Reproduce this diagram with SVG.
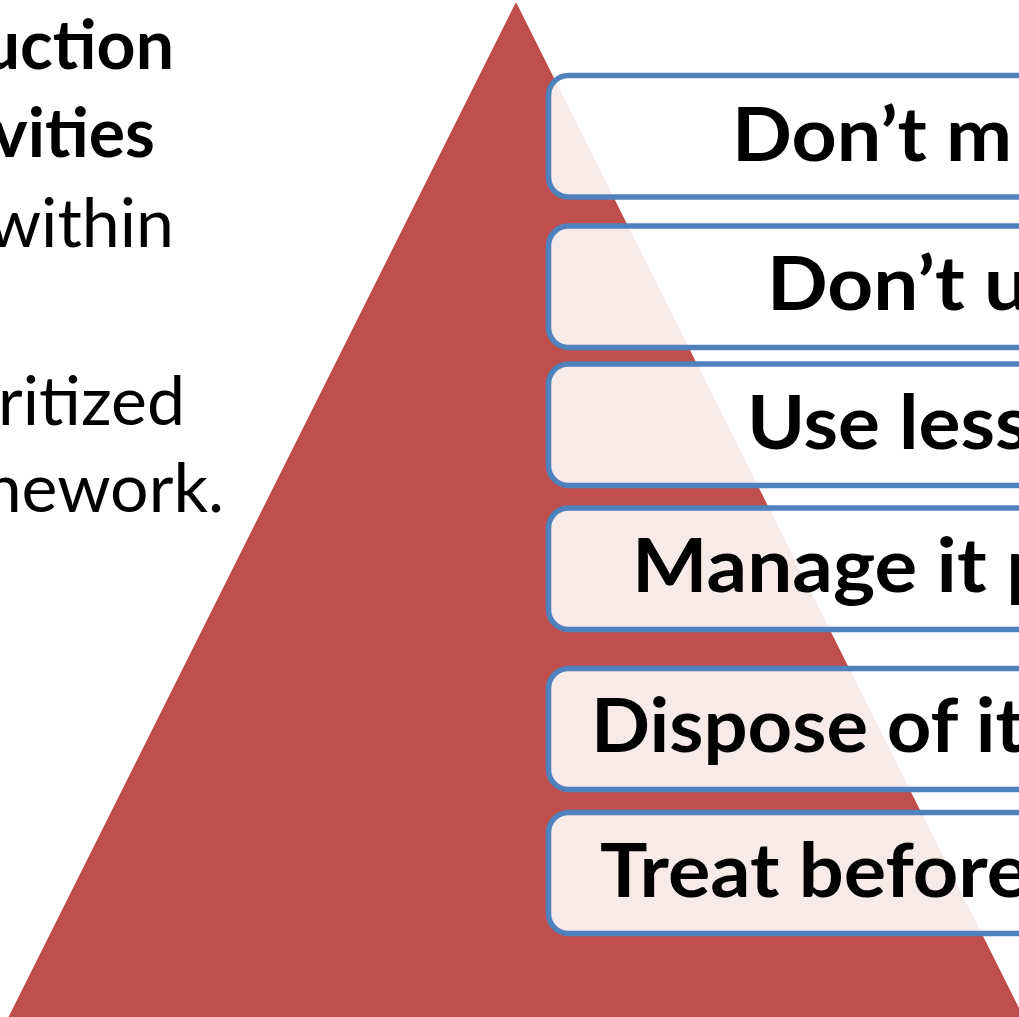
<svg xmlns="http://www.w3.org/2000/svg" width="1019" height="1017" viewBox="0 0 1019 1017">
  <style>
    .tier { fill: #ffffff; fill-opacity: 0.88; stroke: #4f81bd; stroke-width: 5.5; }
    .tier-label { font-family: Lato, "Liberation Sans", sans-serif; font-weight: 700; font-size: 75.5px; fill: #000000; }
    .side { font-family: Lato, "Liberation Sans", sans-serif; font-size: 68px; fill: #000000; text-anchor: end; }
    .side.strong { font-weight: 700; }
  </style>

  <rect x="0" y="0" width="1019" height="1017" fill="#ffffff"/>

  <!-- explanatory text at the left -->
  <g id="side-text">
    <text class="side strong" x="174" y="69">uction</text>
    <text class="side strong" x="155" y="157">vities</text>
    <text class="side" x="174" y="247">within</text>
    <text class="side" x="185" y="425">ritized</text>
    <text class="side" x="224" y="512">nework.</text>
  </g>

  <!-- pyramid -->
  <g id="pyramid">
    <polygon points="516,2 -4,1042 1036,1042" fill="#c0504d"/>
  </g>

  <!-- hierarchy tiers; labels are widened slightly to a condensed-face width -->
  <g id="tier-1">
    <rect class="tier" x="548.5" y="75.5" width="860" height="121.5" rx="20" ry="20"/>
    <text class="tier-label" transform="translate(732,161) scale(1.045,1)">Don’t m</text>
  </g>
  <g id="tier-2">
    <rect class="tier" x="548.5" y="226" width="860" height="121.5" rx="20" ry="20"/>
    <text class="tier-label" transform="translate(767,310) scale(1.06,1)">Don’t u</text>
  </g>
  <g id="tier-3">
    <rect class="tier" x="548.5" y="364" width="860" height="121.5" rx="20" ry="20"/>
    <text class="tier-label" transform="translate(747,449) scale(1.04,1)">Use less</text>
  </g>
  <g id="tier-4">
    <rect class="tier" x="548.5" y="508" width="860" height="121.5" rx="20" ry="20"/>
    <text class="tier-label" transform="translate(632,592) scale(1.06,1)">Manage it p</text>
  </g>
  <g id="tier-5">
    <rect class="tier" x="548.5" y="668.5" width="860" height="121" rx="20" ry="20"/>
    <text class="tier-label" transform="translate(591,752) scale(1.03,1)">Dispose of it</text>
  </g>
  <g id="tier-6">
    <rect class="tier" x="548.5" y="812.5" width="860" height="121" rx="20" ry="20"/>
    <text class="tier-label" transform="translate(600,897) scale(1.05,1)">Treat before</text>
  </g>

  <g id="connectors"/>
</svg>
